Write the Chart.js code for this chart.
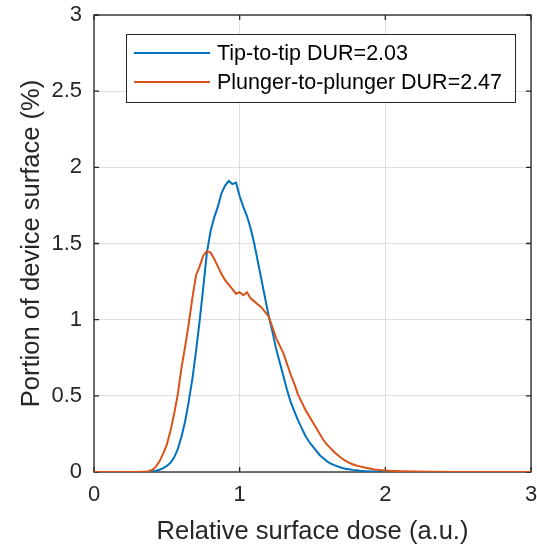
<!DOCTYPE html>
<html>
<head>
<meta charset="utf-8">
<script src="https://cdn.jsdelivr.net/npm/chart.js@4/dist/chart.umd.min.js"></script>
<style>
	body { margin: 0; background: #fff; }
</style>
</head>
<body>
<canvas id="dose-chart" width="537" height="545"></canvas>
<script>
// relative surface dose (a.u.)
const dose = [
	0, 0.3, 0.325, 0.35, 0.375, 0.4, 0.425, 0.45, 0.475, 0.5,
	0.525, 0.55, 0.575, 0.6, 0.625, 0.65, 0.675, 0.7, 0.725, 0.75,
	0.775, 0.8, 0.825, 0.85, 0.875, 0.9, 0.925, 0.95, 0.975, 1.0,
	1.025, 1.05, 1.075, 1.1, 1.125, 1.15, 1.175, 1.2, 1.225, 1.25,
	1.275, 1.3, 1.325, 1.35, 1.375, 1.4, 1.425, 1.45, 1.475, 1.5,
	1.525, 1.55, 1.575, 1.6, 1.625, 1.65, 1.675, 1.7, 1.725, 1.75,
	1.775, 1.8, 1.825, 1.85, 1.875, 1.9, 1.925, 1.95, 1.975, 2.0,
	2.025, 2.05, 2.075, 2.1, 2.2, 2.3, 2.5, 3.0,
];

// portion of device surface (%)
const tip_to_tip = [
	0, 0, 0, 0, 0.001, 0.003, 0.008, 0.015, 0.025, 0.04,
	0.06, 0.095, 0.15, 0.23, 0.33, 0.46, 0.61, 0.79, 0.99, 1.21,
	1.44, 1.58, 1.67, 1.74, 1.83, 1.88, 1.91, 1.89, 1.90, 1.81,
	1.74, 1.68, 1.60, 1.50, 1.38, 1.26, 1.14, 1.02, 0.92, 0.81,
	0.72, 0.63, 0.54, 0.46, 0.40, 0.34, 0.29, 0.24, 0.20, 0.17,
	0.14, 0.11, 0.09, 0.07, 0.055, 0.045, 0.036, 0.028, 0.022, 0.018,
	0.014, 0.011, 0.008, 0.006, 0.005, 0.004, 0.003, 0.002, 0.002, 0.001,
	0.001, 0.001, 0, 0, 0, 0, 0, 0,
];

const plunger_to_plunger = [
	0, 0, 0.001, 0.002, 0.005, 0.013, 0.035, 0.07, 0.12, 0.18,
	0.27, 0.38, 0.51, 0.68, 0.82, 0.97, 1.14, 1.29, 1.35, 1.42,
	1.45, 1.44, 1.40, 1.35, 1.30, 1.26, 1.23, 1.20, 1.17, 1.18,
	1.16, 1.18, 1.14, 1.12, 1.10, 1.08, 1.05, 1.02, 0.95, 0.88,
	0.83, 0.78, 0.71, 0.64, 0.58, 0.51, 0.46, 0.41, 0.37, 0.33,
	0.29, 0.25, 0.21, 0.18, 0.155, 0.13, 0.11, 0.09, 0.075, 0.062,
	0.051, 0.043, 0.037, 0.031, 0.026, 0.021, 0.017, 0.014, 0.012, 0.010,
	0.008, 0.007, 0.006, 0.005, 0.003, 0.001, 0, 0,
];

const series_labels = ['Tip-to-tip DUR=2.03', 'Plunger-to-plunger DUR=2.47'];
const series_colors = ['#0072BD', '#D95319'];

const x_ticks = [0, 1, 2, 3];
const y_ticks = [0, 0.5, 1, 1.5, 2, 2.5, 3];

const font_family = '"Liberation Sans", Arial, Helvetica, sans-serif';
const axis_color = '#262626';

function toPoints(xs, ys) {
	return xs.map((x, i) => ({x: x, y: ys[i]}));
}

// MATLAB style box with inward ticks on all four sides
const axes_box_plugin = {
	id: 'axesBox',
	beforeDatasetsDraw(chart) {
		const ctx = chart.ctx;
		const area = chart.chartArea;
		const xs = chart.scales.x;
		const ys = chart.scales.y;
		const tick = 5;
		ctx.save();
		ctx.strokeStyle = axis_color;
		ctx.lineWidth = 1.3;
		ctx.strokeRect(area.left, area.top, area.right - area.left, area.bottom - area.top);
		ctx.beginPath();
		x_ticks.forEach(v => {
			let px = xs.getPixelForValue(v);
			ctx.moveTo(px, area.bottom);
			ctx.lineTo(px, area.bottom - tick);
			ctx.moveTo(px, area.top);
			ctx.lineTo(px, area.top + tick);
		});
		y_ticks.forEach(v => {
			let py = ys.getPixelForValue(v);
			ctx.moveTo(area.left, py);
			ctx.lineTo(area.left + tick, py);
			ctx.moveTo(area.right, py);
			ctx.lineTo(area.right - tick, py);
		});
		ctx.stroke();
		ctx.restore();
	},
};

// legend box inside the axes, top right
const inner_legend_plugin = {
	id: 'innerLegend',
	afterDraw(chart) {
		const ctx = chart.ctx;
		const box = {left: 126, top: 34, width: 389, height: 68};
		ctx.save();
		ctx.fillStyle = '#fff';
		ctx.fillRect(box.left, box.top, box.width, box.height);
		ctx.strokeStyle = axis_color;
		ctx.lineWidth = 1;
		ctx.strokeRect(box.left + 0.5, box.top + 0.5, box.width, box.height);
		ctx.font = '21.5px ' + font_family;
		ctx.textBaseline = 'middle';
		ctx.textAlign = 'left';
		series_labels.forEach((label, i) => {
			let y = box.top + 19 + i * 29;
			ctx.strokeStyle = series_colors[i];
			ctx.lineWidth = 2;
			ctx.beginPath();
			ctx.moveTo(box.left + 8, y);
			ctx.lineTo(box.left + 84, y);
			ctx.stroke();
			ctx.fillStyle = '#000';
			ctx.fillText(label, box.left + 91, y + 1);
		});
		ctx.restore();
	},
};

var dose_chart_ctx = document.getElementById('dose-chart').getContext('2d');
var dose_chart = new Chart(dose_chart_ctx, {
	type: 'line',
	data: {
		datasets: [
			{
				label: series_labels[0],
				data: toPoints(dose, tip_to_tip),
				borderColor: series_colors[0],
				borderWidth: 2,
				pointRadius: 0,
				tension: 0,
				order: 1,
			},
			{
				label: series_labels[1],
				data: toPoints(dose, plunger_to_plunger),
				borderColor: series_colors[1],
				borderWidth: 2,
				pointRadius: 0,
				tension: 0,
				order: 0,
			},
		],
	},
	options: {
		responsive: false,
		animation: false,
		layout: {
			padding: { left: 0, right: 6, top: 15, bottom: 0 },
		},
		plugins: {
			legend: { display: false },
			tooltip: { enabled: false },
		},
		scales: {
			x: {
				type: 'linear',
				min: 0,
				max: 3,
				afterFit: (scale) => {
					scale.height = 73;
					scale.paddingLeft = 0;
					scale.paddingRight = 0;
				},
				afterBuildTicks: (scale) => { scale.ticks = x_ticks.map(v => ({value: v})); },
				grid: { color: 'rgba(38,38,38,0.15)', drawTicks: false },
				border: { display: false },
				ticks: {
					padding: 10,
					color: axis_color,
					font: { family: font_family, size: 22 },
					callback: (v) => String(v),
				},
				title: {
					display: true,
					text: 'Relative surface dose (a.u.)',
					color: axis_color,
					padding: 0,
					font: { family: font_family, size: 25.5, lineHeight: 1 },
				},
			},
			y: {
				type: 'linear',
				min: 0,
				max: 3,
				afterFit: (scale) => {
					scale.width = 94;
					scale.paddingTop = 0;
					scale.paddingBottom = 0;
				},
				afterBuildTicks: (scale) => { scale.ticks = y_ticks.map(v => ({value: v})); },
				grid: { color: 'rgba(38,38,38,0.15)', drawTicks: false },
				border: { display: false },
				ticks: {
					padding: 12,
					color: axis_color,
					font: { family: font_family, size: 22 },
					callback: (v) => String(v),
				},
				title: {
					display: true,
					text: 'Portion of device surface (%)',
					color: axis_color,
					padding: { top: 19, bottom: 0 },
					font: { family: font_family, size: 25.5, lineHeight: 1 },
				},
			},
		},
	},
	plugins: [axes_box_plugin, inner_legend_plugin],
});
</script>
</body>
</html>
